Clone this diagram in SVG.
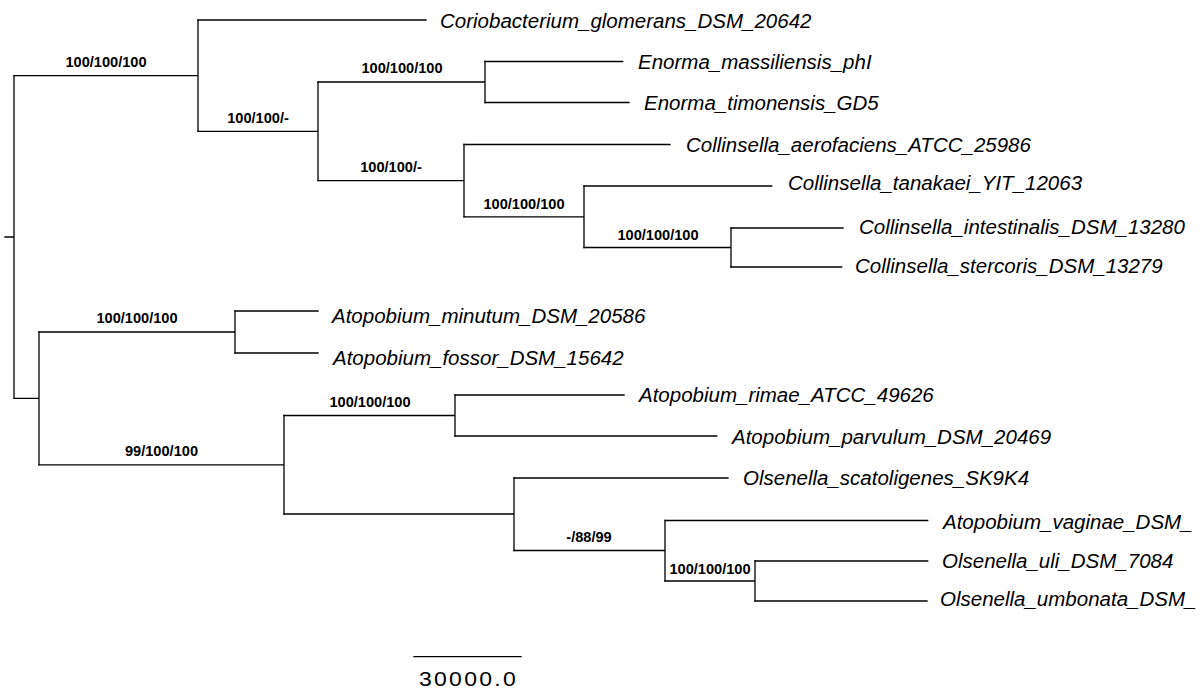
<svg xmlns="http://www.w3.org/2000/svg" width="1200" height="693" viewBox="0 0 1200 693">
<style>
.br{fill:none;stroke:#000;stroke-width:1.3;stroke-linecap:square}
.tx{font-family:"Liberation Sans",Arial,sans-serif;font-style:italic;font-size:20.5px;fill:#000}
.bs{font-family:"Liberation Sans",Arial,sans-serif;font-weight:bold;font-size:14.6px;fill:#000;text-anchor:middle}
.sc{font-family:"Liberation Sans",Arial,sans-serif;font-size:20px;letter-spacing:2px;fill:#000;text-anchor:middle}
</style>
<rect width="1200" height="693" fill="#fff"/>
<g id="connectors">
<path class="br" d="M5 237H14M14 75.7V398.4"/>
<path class="br" d="M14 75.7H198M198 20V131.4"/>
<path class="br" d="M198 131.4H318M318 82V180.7"/>
<path class="br" d="M318 82H485M485 61.5V102.5"/>
<path class="br" d="M318 180.7H464M464 144.5V216.8"/>
<path class="br" d="M464 216.8H584M584 186V247.5"/>
<path class="br" d="M584 247.5H731M731 228V267"/>
<path class="br" d="M14 398.4H39M39 332V464.8"/>
<path class="br" d="M39 332H235M235 311V353"/>
<path class="br" d="M39 464.8H284M284 415.5V514"/>
<path class="br" d="M284 415.5H455M455 395V436"/>
<path class="br" d="M284 514H514M514 478V550.5"/>
<path class="br" d="M514 550.5H665M665 520.5V581"/>
<path class="br" d="M665 581H755M755 561V601"/>
<path class="br" d="M198 20H426"/>
<path class="br" d="M485 61.5H622.7"/>
<path class="br" d="M485 102.5H629"/>
<path class="br" d="M464 144.5H670"/>
<path class="br" d="M584 186H771.7"/>
<path class="br" d="M731 228H843"/>
<path class="br" d="M731 267H841.7"/>
<path class="br" d="M235 311H318"/>
<path class="br" d="M235 353H318"/>
<path class="br" d="M455 395H624"/>
<path class="br" d="M455 436H716.7"/>
<path class="br" d="M514 478H728"/>
<path class="br" d="M665 520.5H927.7"/>
<path class="br" d="M755 561H927.7"/>
<path class="br" d="M755 601H927"/>
</g>
<g id="tip-coriobacterium"><text class="tx" x="440" y="27.5">Coriobacterium_glomerans_DSM_20642</text></g>
<g id="tip-enorma-massiliensis"><text class="tx" x="638" y="69">Enorma_massiliensis_phI</text></g>
<g id="tip-enorma-timonensis"><text class="tx" x="644" y="110">Enorma_timonensis_GD5</text></g>
<g id="tip-collinsella-aerofaciens"><text class="tx" x="686" y="152">Collinsella_aerofaciens_ATCC_25986</text></g>
<g id="tip-collinsella-tanakaei"><text class="tx" x="788" y="189.5">Collinsella_tanakaei_YIT_12063</text></g>
<g id="tip-collinsella-intestinalis"><text class="tx" x="859" y="234">Collinsella_intestinalis_DSM_13280</text></g>
<g id="tip-collinsella-stercoris"><text class="tx" x="855" y="273">Collinsella_stercoris_DSM_13279</text></g>
<g id="tip-atopobium-minutum"><text class="tx" x="332" y="322.5">Atopobium_minutum_DSM_20586</text></g>
<g id="tip-atopobium-fossor"><text class="tx" x="333" y="365">Atopobium_fossor_DSM_15642</text></g>
<g id="tip-atopobium-rimae"><text class="tx" x="639" y="401.5">Atopobium_rimae_ATCC_49626</text></g>
<g id="tip-atopobium-parvulum"><text class="tx" x="732" y="443.5">Atopobium_parvulum_DSM_20469</text></g>
<g id="tip-olsenella-scatoligenes"><text class="tx" x="743" y="485">Olsenella_scatoligenes_SK9K4</text></g>
<g id="tip-atopobium-vaginae"><text class="tx" x="943" y="528.5">Atopobium_vaginae_DSM_</text></g>
<g id="tip-olsenella-uli"><text class="tx" x="942" y="567.5">Olsenella_uli_DSM_7084</text></g>
<g id="tip-olsenella-umbonata"><text class="tx" x="940" y="606">Olsenella_umbonata_DSM_</text></g>
<g id="node-198"><text class="bs" x="106" y="67.3">100/100/100</text></g>
<g id="node-318"><text class="bs" x="258" y="122.7">100/100/-</text></g>
<g id="node-485"><text class="bs" x="402" y="73">100/100/100</text></g>
<g id="node-464"><text class="bs" x="391" y="172">100/100/-</text></g>
<g id="node-584"><text class="bs" x="524" y="208.5">100/100/100</text></g>
<g id="node-731"><text class="bs" x="658" y="239.5">100/100/100</text></g>
<g id="node-235"><text class="bs" x="137" y="323">100/100/100</text></g>
<g id="node-284"><text class="bs" x="161.5" y="456">99/100/100</text></g>
<g id="node-455"><text class="bs" x="370" y="406.7">100/100/100</text></g>
<g id="node-665"><text class="bs" x="589" y="541.7">-/88/99</text></g>
<g id="node-755"><text class="bs" x="710" y="573.5">100/100/100</text></g>
<g id="scale-bar">
<path class="br" d="M414 656.7H521"/>
<text class="sc" transform="translate(468.5 685.7) scale(1.15 1)" x="0" y="0">30000.0</text>
</g>
</svg>
